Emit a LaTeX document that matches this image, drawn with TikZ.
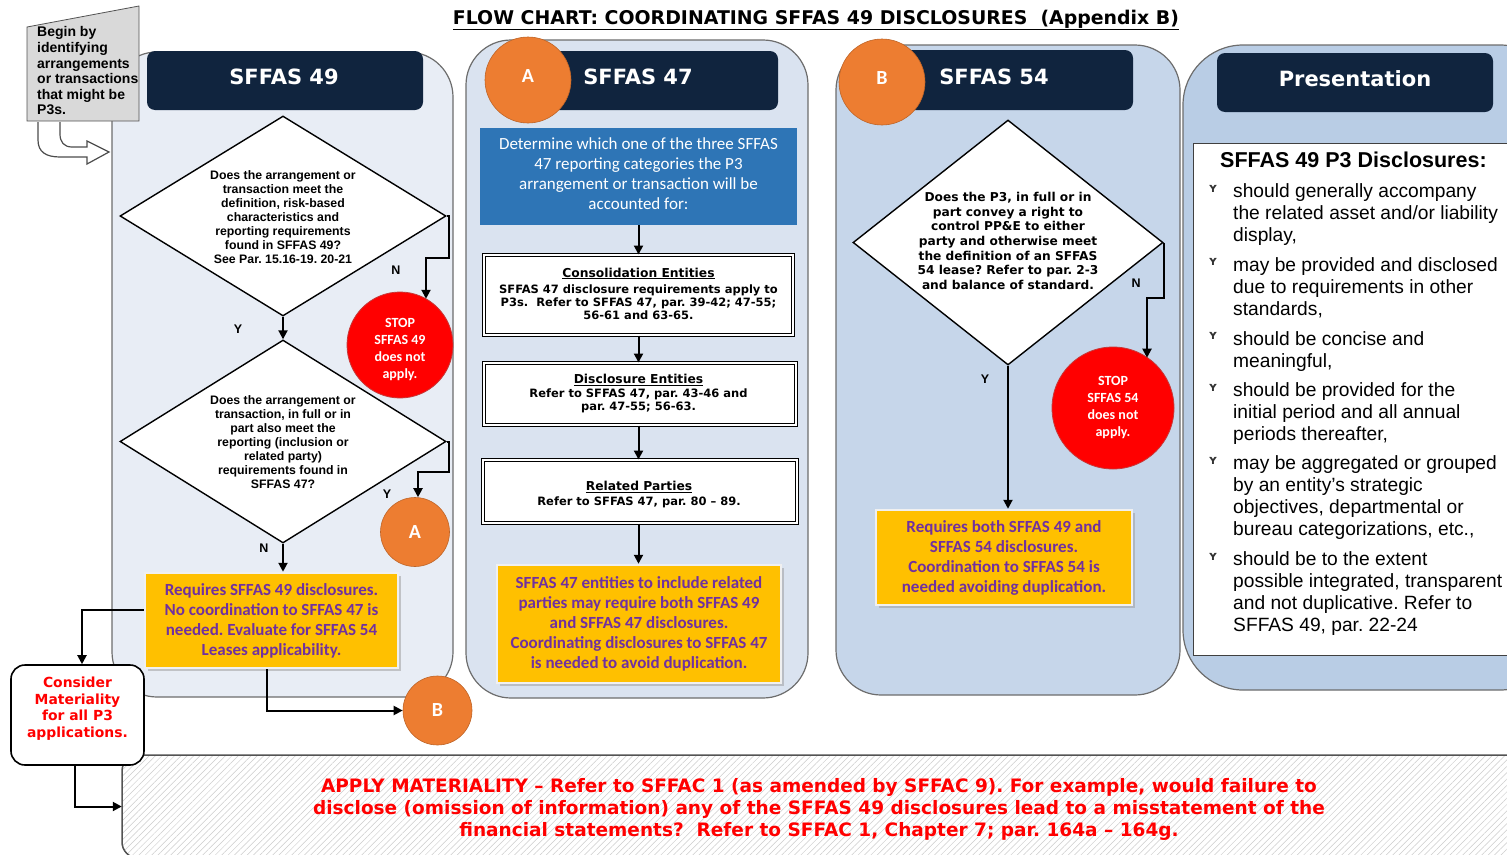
\documentclass[tikz,border=0pt]{standalone}
\usepackage{fontspec}
\setmainfont{Liberation Sans}
\newfontfamily\dvfont{DejaVu Sans}
\newfontfamily\calfont{Carlito}
\usetikzlibrary{shapes.geometric,arrows.meta,shadows,patterns.meta}
\definecolor{navy}{HTML}{10243E}
\definecolor{pone}{HTML}{E8EDF5}
\definecolor{ptwo}{HTML}{DAE3F0}
\definecolor{pthree}{HTML}{C6D6EA}
\definecolor{pfour}{HTML}{B9CDE5}
\definecolor{orng}{HTML}{ED7D31}
\definecolor{ylw}{HTML}{FFC000}
\definecolor{purp}{HTML}{7030A0}
\definecolor{blu}{HTML}{2E75B6}
\definecolor{edgegray}{HTML}{6D6D6D}
\newcommand\myfs[2]{\fontsize{#1}{#2}\selectfont}
\frenchspacing
\begin{document}
\frenchspacing
\begin{tikzpicture}[x=1pt,y=-1pt,
  panel/.style={draw=edgegray, line width=1.2pt, rounded corners=45pt, inner sep=0pt},
  hdr/.style={fill=navy, rounded corners=8pt, inner sep=0pt},
  hdrt/.style={text=white, font=\dvfont\bfseries\myfs{21}{25}, inner sep=0pt},
  orc/.style={circle, fill=orng, draw=orng!80!black, line width=0.6pt, text=white, font=\calfont\bfseries\myfs{20}{24}, inner sep=0pt},
  stopc/.style={circle, fill=red, draw=red!55!gray, line width=0.8pt, text=white, align=center, font=\calfont\bfseries\myfs{14}{17}, inner sep=0pt},
  dia/.style={diamond, draw=black, fill=white, line width=1.4pt, inner sep=0pt},
  dtxt/.style={align=center, font=\bfseries\myfs{12.3}{14}, inner sep=0pt},
  ybox/.style={fill=ylw, draw=black!6, line width=2.5pt, text=purp, align=center, font=\calfont\bfseries\myfs{17}{20}, inner sep=0pt, drop shadow={shadow xshift=2.5pt, shadow yshift=-2.5pt, fill=black!40}},
  dbox/.style={draw=black, double=white, double distance=2pt, line width=1pt, fill=white, align=center, font=\dvfont\bfseries\myfs{11.5}{13}, inner sep=0pt},
  arr/.style={-{Triangle[length=9pt,width=9pt]}, line width=2pt},
  lbl/.style={font=\bfseries\myfs{12.5}{14}, inner sep=0pt},
  btxt/.style={anchor=west, align=left, font=\myfs{19.2}{22}, inner sep=0pt},
  bgl/.style={font=\dvfont\bfseries\myfs{13}{13}, text=black!80, inner sep=0pt}
]
\useasboundingbox (0,0) rectangle (1507,854);

% panels
\node[panel, fill=pone, minimum width=341pt, minimum height=645pt] (p1) at (282.5,374.5) {};
\node[panel, fill=ptwo, minimum width=342pt, minimum height=658pt] (p2) at (637,369) {};
\node[panel, fill=pthree, minimum width=344pt, minimum height=650pt] (p3) at (1008,370) {};
\node[panel, fill=pfour, rounded corners=60pt, minimum width=377pt, minimum height=645pt] (p4) at (1371.5,367.5) {};

% title
\node[font=\dvfont\bfseries\myfs{18.9}{22}, inner sep=0pt] (title) at (816,20) {\underline{FLOW CHART: COORDINATING SFFAS 49 DISCLOSURES\ \ (Appendix B)}};

% begin box and curved arrow
\draw[fill=white, draw=gray!60!black, line width=1.2pt] (38,122) -- (38,140) .. controls (38,152) and (46,157) .. (60,157) -- (87,157) -- (87,164) -- (109,152) -- (87,141) -- (87,147) -- (72,147) .. controls (64,147) and (60,142) .. (60,134) -- (60,122);
\filldraw[fill=gray!30, draw=gray!65!black, line width=0.8pt] (27,27) -- (139,6) -- (139,121) -- (27,121) -- cycle;
\node[anchor=west, align=left, font=\bfseries\myfs{14}{15.6}, inner sep=0pt] (beg) at (37,71) {Begin by\\identifying\\arrangements\\or transactions\\that might be\\P3s.};

% headers
\node[hdr, minimum width=276pt, minimum height=59pt] (h1) at (285,80.5) {};
\node[hdrt] (h1t) at (284,77) {SFFAS 49};
\node[hdr, minimum width=258pt, minimum height=59pt] (h2) at (649,80.5) {};
\node[hdrt] (h2t) at (638,77) {SFFAS 47};
\node[hdr, minimum width=253pt, minimum height=60pt] (h3) at (1006.5,80) {};
\node[hdrt] (h3t) at (994,77) {SFFAS 54};
\node[hdr, minimum width=276pt, minimum height=59pt] (h4) at (1355,82.5) {};
\node[hdrt] (h4t) at (1355,79) {Presentation};
\node[orc, minimum size=86pt] (a1) at (528,80) {\raisebox{7pt}{A}};
\node[orc, minimum size=86pt] (bb1) at (882,82) {\raisebox{7pt}{B}};

% SFFAS 49 column
\node[dia, minimum width=326pt, minimum height=200pt] (d1) at (283,216) {};
\node[dtxt] (d1t) at (283,217) {Does the arrangement or\\transaction meet the\\definition, risk-based\\characteristics and\\reporting requirements\\found in SFFAS 49?\\See Par. 15.16-19. 20-21};
\node[dia, minimum width=326pt, minimum height=203pt] (d2) at (283,441.5) {};
\node[dtxt] (d2t) at (283,442) {Does the arrangement or\\transaction, in full or in\\part also meet the\\reporting (inclusion or\\related party)\\requirements found in\\SFFAS 47?};
\node[stopc, minimum size=106pt] (s1) at (400,345) {};
\node[text=white, align=center, font=\calfont\bfseries\myfs{14}{17}, inner sep=0pt] (s1t) at (400,350) {STOP\\SFFAS 49\\does not\\apply.};
\node[orc, minimum size=69pt] (a2) at (415,532) {A};
\node[ybox, minimum width=253pt, minimum height=95pt] (y1) at (271.5,620.5) {Requires SFFAS 49 disclosures.\\No coordination to SFFAS 47 is\\needed. Evaluate for SFFAS 54\\Leases applicability.};
\node[orc, minimum size=69pt] (b2) at (437.5,710.5) {B};

\coordinate (n1) at (426,258);
\coordinate (n2) at (418,472);
\draw[arr] (d1.south) -- (d2.north);
\draw[arr] (d1.east) -- ++(2.5,0) |- (n1) -- (n1 |- s1.60);
\draw[arr] (d2.east) -- ++(2.5,0) |- (n2) -- (n2 |- a2.north);
\draw[arr] (d2.south) -- (d2.south |- y1.north);
\node[lbl] (ln1) at (396,270) {N};
\node[lbl] (ly1) at (238,329) {Y};
\node[lbl] (ly2) at (387,494) {Y};
\node[lbl] (ln2) at (264,548) {N};

% SFFAS 47 column
\node[fill=blu, inner sep=0pt, minimum width=317pt, minimum height=97pt] (blue) at (638.5,176.5) {};
\node[text=white, align=center, font=\calfont\myfs{17}{20}, inner sep=0pt] (bluet) at (638.5,173.5) {Determine which one of the three SFFAS\\47 reporting categories the P3\\arrangement or transaction will be\\accounted for:};
\node[dbox, minimum width=309pt, minimum height=80pt] (e1) at (638.5,295) {};
\node[dbox, draw=none, fill=none, double=none] (e1t) at (638.5,293.5) {{\myfs{12.3}{13}\underline{Consolidation Entities}}\\[3pt]SFFAS 47 disclosure requirements apply to\\P3s.\ \ Refer to SFFAS 47, par. 39-42; 47-55;\\56-61 and 63-65.};
\node[dbox, minimum width=312pt, minimum height=62pt] (e2) at (640,394) {};
\node[dbox, draw=none, fill=none, double=none] (e2t) at (638.5,394) {{\myfs{12.3}{13}\underline{Disclosure Entities}}\\[1pt]Refer to SFFAS 47, par. 43-46 and\\par. 47-55; 56-63.};
\node[dbox, minimum width=314pt, minimum height=63pt] (e3) at (640,491.5) {};
\node[dbox, draw=none, fill=none, double=none] (e3t) at (639,494.5) {{\myfs{12.3}{13}\underline{Related Parties}}\\[2pt]Refer to SFFAS 47, par. 80 – 89.};
\node[ybox, minimum width=284pt, minimum height=118pt] (y2) at (639,624) {SFFAS 47 entities to include related\\parties may require both SFFAS 49\\and SFFAS 47 disclosures.\\Coordinating disclosures to SFFAS 47\\is needed to avoid duplication.};
\draw[arr] (blue.south) -- (e1.north);
\draw[arr] (e1.south) -- (e1.south |- e2.north);
\draw[arr] (e1.south |- e2.south) -- (e1.south |- e3.north);
\draw[arr] (e1.south |- e3.south) -- (e1.south |- y2.north);

% SFFAS 54 column
\node[dia, minimum width=310pt, minimum height=245pt] (d3) at (1008,242.5) {};
\node[dtxt, font=\dvfont\bfseries\myfs{12.2}{14.6}] (d3t) at (1008,241) {Does the P3, in full or in\\part convey a right to\\control PP\&E to either\\party and otherwise meet\\the definition of an SFFAS\\54 lease? Refer to par. 2-3\\and balance of standard.};
\node[stopc, minimum size=122pt] (s2) at (1113,408) {STOP\\SFFAS 54\\does not\\apply.};
\node[ybox, minimum width=256pt, minimum height=95pt] (y3) at (1004,557.5) {Requires both SFFAS 49 and\\SFFAS 54 disclosures.\\Coordination to SFFAS 54 is\\needed avoiding duplication.};
\coordinate (n3) at (1147,298);
\draw[arr] (d3.east) |- (n3) -- (n3 |- s2.55.5);
\draw[arr] (d3.south) -- (d3.south |- y3.north);
\node[lbl] (ln3) at (1136,283) {N};
\node[lbl] (ly3) at (985,379) {Y};

% Presentation column
\node[draw=black!75, line width=1pt, fill=white, minimum width=337pt, minimum height=512pt, inner sep=0pt] (pres) at (1361.5,399) {};
\node[anchor=west, font=\bfseries\myfs{21.5}{24}, inner sep=0pt] (prest) at (1220,160) {SFFAS 49 P3 Disclosures:};
\node[btxt] (bl1) at (1233,215) {should generally accompany\\the related asset and/or liability\\display,};
\node[btxt] (bl2) at (1233,288) {may be provided and disclosed\\due to requirements in other\\standards,};
\node[btxt] (bl3) at (1233,351.5) {should be concise and\\meaningful,};
\node[btxt] (bl4) at (1233,414) {should be provided for the\\initial period and all annual\\periods thereafter,};
\node[btxt] (bl5) at (1233,498) {may be aggregated or grouped\\by an entity’s strategic\\objectives, departmental or\\bureau categorizations, etc.,};
\node[btxt] (bl6) at (1233,593.5) {should be to the extent\\possible integrated, transparent\\and not duplicative. Refer to\\SFFAS 49, par. 22-24};
\node[bgl] (g1) at (1213,189) {ʏ};
\node[bgl] (g2) at (1213,262) {ʏ};
\node[bgl] (g3) at (1213,336) {ʏ};
\node[bgl] (g4) at (1213,388) {ʏ};
\node[bgl] (g5) at (1213,461) {ʏ};
\node[bgl] (g6) at (1213,557) {ʏ};

% bottom materiality box
\node[draw=gray!65!black, line width=1.5pt, rounded corners=16pt, preaction={fill=white}, pattern={Lines[angle=45,distance=4.5pt,line width=0.5pt]}, pattern color=gray!40, minimum width=1418pt, minimum height=103pt, inner sep=0pt] (bb) at (831,806.5) {};
\node[text=red, align=center, font=\dvfont\bfseries\myfs{18.5}{22}, inner sep=0pt] (bbt) at (819,809) {APPLY MATERIALITY – Refer to SFFAC 1 (as amended by SFFAC 9). For example, would failure to\\disclose (omission of information) any of the SFFAS 49 disclosures lead to a misstatement of the\\financial statements?\ \ Refer to SFFAC 1, Chapter 7; par. 164a – 164g.};

\node[draw=black, line width=1.6pt, rounded corners=14pt, fill=white, minimum width=133pt, minimum height=100pt, inner sep=0pt] (cm) at (77.5,715) {};
\node[text=red, align=center, font=\dvfont\bfseries\myfs{13.9}{16.5}, inner sep=0pt] (cmt) at (77.5,708.5) {Consider\\Materiality\\for all P3\\applications.};

\draw[arr] ([yshift=10.5pt]y1.west) -| ([xshift=4.5pt]cm.north);
\draw[arr] ([xshift=-4.5pt]y1.south) |- (b2.west);
\draw[arr] ([xshift=-2.5pt]cm.south) |- (bb.west);
\end{tikzpicture}
\end{document}
